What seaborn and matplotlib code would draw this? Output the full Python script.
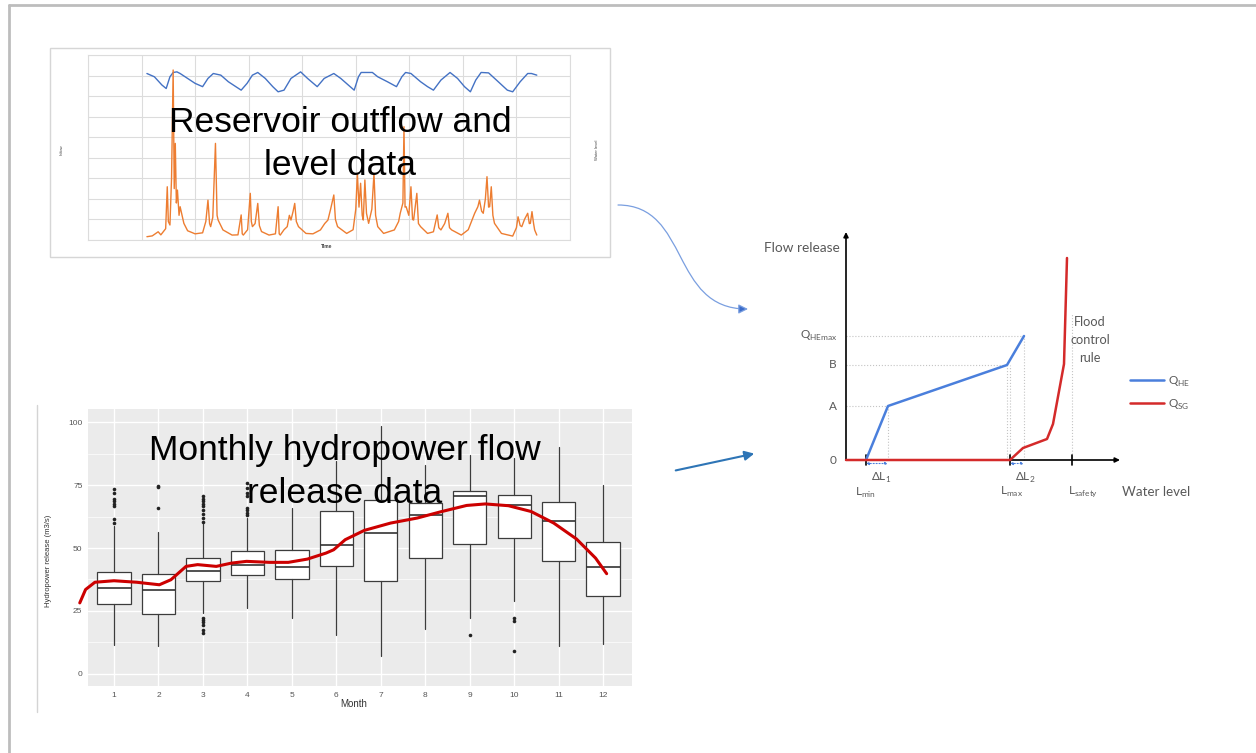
import numpy as np
import pandas as pd
import matplotlib
matplotlib.use("Agg")
import matplotlib.pyplot as plt
import seaborn as sns
from matplotlib.patches import FancyArrowPatch, Rectangle
from matplotlib.path import Path
from matplotlib.lines import Line2D

# ---------------- data ----------------
# Top panel: reservoir inflow / water level time series (time in grid units)
inflow_t = [1.10, 1.20, 1.31, 1.36, 1.45, 1.48, 1.50, 1.53, 1.56, 1.59, 1.61, 1.63, 1.65, 1.67, 1.70, 1.72,
            1.79, 1.86, 2.00, 2.14, 2.20, 2.24, 2.27, 2.29, 2.33, 2.38, 2.41, 2.43, 2.52, 2.69, 2.80, 2.86,
            2.88, 2.90, 2.98, 3.03, 3.05, 3.07, 3.12, 3.17, 3.20, 3.24, 3.38, 3.50, 3.55, 3.57, 3.59, 3.66,
            3.72, 3.76, 3.79, 3.83, 3.86, 3.89, 3.93, 4.07, 4.20, 4.34, 4.42, 4.48, 4.53, 4.59, 4.62, 4.66,
            4.83, 4.95, 5.00, 5.03, 5.06, 5.09, 5.12, 5.14, 5.17, 5.20, 5.24, 5.30, 5.34, 5.37, 5.41, 5.52,
            5.72, 5.80, 5.83, 5.88, 5.90, 5.92, 5.94, 5.99, 6.03, 6.06, 6.08, 6.14, 6.17, 6.21, 6.34, 6.45,
            6.52, 6.55, 6.59, 6.66, 6.72, 6.75, 6.79, 6.97, 7.10, 7.17, 7.22, 7.28, 7.31, 7.35, 7.38, 7.42,
            7.45, 7.48, 7.50, 7.53, 7.56, 7.59, 7.72, 7.93, 8.00, 8.03, 8.07, 8.10, 8.15, 8.21, 8.24, 8.26,
            8.29, 8.32, 8.34, 8.38]
inflow_v = [0.16, 0.20, 0.40, 0.25, 0.55, 2.59, 0.90, 0.73, 3.00, 8.27, 2.50, 4.70, 1.80, 2.43, 1.20, 1.62,
            0.81, 0.45, 0.30, 0.35, 0.90, 1.94, 0.80, 0.65, 1.10, 4.70, 1.20, 0.97, 0.49, 0.24, 0.25, 1.22,
            0.30, 0.24, 0.50, 2.27, 0.90, 0.65, 0.80, 1.78, 0.70, 0.41, 0.24, 0.30, 1.62, 0.30, 0.24, 0.50,
            0.65, 1.20, 0.97, 1.40, 1.78, 0.90, 0.65, 0.32, 0.30, 0.49, 0.80, 0.97, 1.50, 2.19, 1.00, 0.65,
            0.32, 0.50, 1.50, 3.24, 1.60, 2.76, 1.20, 0.97, 2.92, 1.30, 0.81, 1.50, 3.24, 1.20, 0.65, 0.32,
            0.49, 0.90, 1.30, 1.80, 5.51, 1.60, 1.62, 1.20, 2.59, 1.00, 0.97, 2.27, 0.80, 0.65, 0.32, 0.40,
            1.22, 0.60, 0.49, 0.80, 1.30, 0.60, 0.49, 0.24, 0.50, 0.97, 1.30, 1.62, 1.94, 1.40, 1.30, 2.00,
            3.08, 1.60, 1.62, 2.59, 1.20, 0.81, 0.32, 0.19, 0.60, 1.13, 0.70, 0.65, 1.00, 1.30, 0.80, 0.81,
            1.38, 0.80, 0.49, 0.24]
level_t = [1.10, 1.24, 1.38, 1.46, 1.53, 1.59, 1.66, 1.72, 1.86, 2.00, 2.14, 2.24, 2.34, 2.48, 2.62, 2.76,
           2.86, 2.97, 3.07, 3.17, 3.31, 3.45, 3.55, 3.66, 3.79, 3.97, 4.10, 4.28, 4.41, 4.59, 4.72, 4.86,
           4.97, 5.05, 5.10, 5.31, 5.41, 5.59, 5.76, 5.86, 5.93, 6.03, 6.21, 6.34, 6.45, 6.59, 6.76, 6.90,
           7.03, 7.14, 7.24, 7.34, 7.48, 7.66, 7.83, 7.93, 8.07, 8.21, 8.28, 8.38]
level_v = [8.10, 7.94, 7.54, 7.37, 7.94, 8.15, 8.18, 8.10, 7.86, 7.62, 7.46, 7.86, 8.10, 8.02, 7.70, 7.46,
           7.29, 7.62, 8.02, 8.15, 7.86, 7.46, 7.21, 7.29, 7.86, 8.18, 7.86, 7.46, 7.86, 8.10, 7.86, 7.54,
           7.29, 7.94, 8.15, 8.15, 7.94, 7.70, 7.46, 7.94, 8.15, 8.10, 7.70, 7.46, 7.29, 7.78, 8.15, 7.86,
           7.46, 7.21, 7.78, 8.15, 8.13, 7.70, 7.29, 7.21, 7.70, 8.10, 8.10, 8.02]

# Bottom panel: monthly hydropower release box statistics (m3/s)
months = [1, 2, 3, 4, 5, 6, 7, 8, 9, 10, 11, 12]
box_q1 = [27.9, 23.9, 36.8, 39.4, 37.7, 42.7, 36.8, 46.0, 51.7, 54.0, 44.8, 30.8]
box_med = [34.1, 33.2, 40.9, 43.1, 42.5, 51.0, 56.0, 63.2, 70.5, 67.2, 60.8, 42.3]
box_q3 = [40.3, 39.8, 45.9, 48.7, 49.3, 64.5, 69.2, 67.9, 72.5, 71.2, 68.1, 52.4]
box_lo = [11.6, 11.0, 24.0, 26.2, 22.2, 15.6, 7.0, 17.9, 22.2, 28.8, 11.0, 11.9]
box_hi = [58.9, 56.2, 59.5, 61.8, 66.0, 84.4, 98.3, 83.0, 87.0, 85.7, 90.3, 74.9]
box_out = [
    [59.9, 61.5, 66.5, 67.5, 68.5, 69.6, 71.8, 73.5],
    [65.9, 74.2, 74.7],
    [16.3, 17.6, 19.6, 20.5, 21.5, 22.2, 60.5, 62.0, 63.5, 65.0, 66.5, 67.5, 68.5, 69.5, 70.5],
    [63.2, 64.0, 65.0, 66.0, 70.5, 72.0, 74.0, 75.8],
    [], [], [], [],
    [15.6],
    [9.0, 20.9, 22.2],
    [], [],
]
smooth_m = [0.23, 0.36, 0.57, 1.00, 1.51, 2.02, 2.28, 2.62, 2.88, 3.30, 3.64, 3.98, 4.50, 4.92, 5.35,
            5.77, 5.94, 6.20, 6.63, 7.22, 7.82, 8.33, 8.93, 9.35, 9.87, 10.38, 10.89, 11.40, 11.83, 12.08]
smooth_v = [28.2, 33.5, 36.4, 37.0, 36.4, 35.4, 37.4, 42.7, 43.4, 42.7, 44.0, 44.7, 44.3, 44.3, 45.6,
            48.0, 49.3, 53.3, 57.0, 59.9, 61.9, 64.3, 66.9, 67.5, 66.8, 64.5, 59.9, 53.6, 46.0, 39.8]
month_labels = [str(m) for m in months]
y_ticks = [0, 25, 50, 75, 100]

# Right panel: operating rule (water level vs flow release, schematic units)
he_level = [2.0, 4.2, 16.1, 17.8]
he_flow = [0.0, 5.4, 9.5, 12.4]
sg_level = [0.0, 16.4, 17.7, 20.1, 20.7, 21.8, 22.1]
sg_flow = [0.0, 0.0, 1.2, 2.1, 3.6, 9.6, 20.2]
level_marks = [2.0, 16.4, 22.6]           # L_min, L_max, L_safety
flow_marks = [0.0, 5.4, 9.5, 12.4]        # 0, A, B, Q_HEmax
flow_mark_labels = ["0", "A", "B", "Q$_\\mathregular{HEmax}$"]

# ---------------- figure ----------------
W, H = 1256, 753
sns.set_style("white")
plt.rcParams['font.family'] = ['Liberation Sans', 'DejaVu Sans']

fig = plt.figure(figsize=(W / 100, H / 100), dpi=100)


def frect(x0, y0, x1, y1):
    return [x0 / W, 1 - y1 / H, (x1 - x0) / W, (y1 - y0) / H]


def fpt(x, y):
    return (x / W, 1 - y / H)


# outer frame (top + left)
fig.add_artist(Line2D([9 / W, 1], [1 - 5 / H, 1 - 5 / H], color='#bdbdbd', lw=2, transform=fig.transFigure))
fig.add_artist(Line2D([9 / W, 9 / W], [0, 1 - 5 / H], color='#bdbdbd', lw=2, transform=fig.transFigure))

# ---------- top-left panel ----------
fig.add_artist(Rectangle(fpt(50, 257), 560 / W, 209 / H, transform=fig.transFigure,
                         fill=False, ec='#d6d6d6', lw=1))
ax1 = fig.add_axes(frect(88, 55, 570, 240))
ax1.set_facecolor('white')
sns.lineplot(x=level_t, y=level_v, ax=ax1, color='#4472C4', lw=1.0, sort=False, estimator=None)
sns.lineplot(x=inflow_t, y=inflow_v, ax=ax1, color='#ED7D31', lw=1.0, sort=False, estimator=None)
ax1.set_xlim(0, 9)
ax1.set_ylim(0, 9)
ax1.set_xticks(range(10))
ax1.set_yticks(range(10))
ax1.grid(True, color='#dcdcdc', lw=0.8)
ax1.set_axisbelow(True)
ax1.tick_params(length=0, labelbottom=False, labelleft=False)
ax1.set_xlabel('')
ax1.set_ylabel('')
for s in ax1.spines.values():
    s.set_color('#dcdcdc')
    s.set_linewidth(0.8)

fig.text(*fpt(62, 150), "Inflow", rotation=90, fontsize=3, ha='center', va='center', color='#444444')
fig.text(*fpt(597, 150), "Water level", rotation=90, fontsize=3, ha='center', va='center', color='#444444')
fig.text(*fpt(327, 247), "Time", fontsize=3.5, ha='center', va='center', color='#444444', weight='bold')

fig.text(*fpt(340, 132), "Reservoir outflow and", fontsize=25.5, ha='center', va='baseline', color='black')
fig.text(*fpt(340, 175), "level data", fontsize=25.5, ha='center', va='baseline', color='black')

# ---------- bottom-left panel ----------
fig.add_artist(Line2D([37 / W, 37 / W], [1 - 712 / H, 1 - 405 / H], color='#d4d4d4', lw=1, transform=fig.transFigure))
ax2 = fig.add_axes(frect(88, 409, 632, 686))
ax2.set_facecolor('#EBEBEB')
stats = []
for i in range(len(months)):
    stats.append(dict(med=box_med[i], q1=box_q1[i], q3=box_q3[i], whislo=box_lo[i],
                      whishi=box_hi[i], fliers=box_out[i]))
ax2.bxp(stats, positions=months, widths=0.75, patch_artist=True, showcaps=False,
        boxprops=dict(facecolor='white', edgecolor='#3c3c3c', lw=0.9),
        medianprops=dict(color='#333333', lw=1.2),
        whiskerprops=dict(color='#3c3c3c', lw=0.9),
        flierprops=dict(marker='o', markersize=2.6, markerfacecolor='#222222', markeredgecolor='none'))
sns.lineplot(x=smooth_m, y=smooth_v, ax=ax2, color='#CC0000', lw=2.2, sort=False, estimator=None)
ax2.lines[-1].set_clip_on(False)
ax2.lines[-1].set_zorder(5)
ax2.set_xlim(0.415, 12.65)
ax2.set_ylim(-4.8, 105.2)
ax2.set_xticks(months)
ax2.set_xticklabels(month_labels)
ax2.set_yticks(y_ticks)
ax2.set_yticks([12.5, 37.5, 62.5, 87.5], minor=True)
ax2.grid(True, which='major', color='white', lw=1.0)
ax2.grid(True, which='minor', axis='y', color='white', lw=0.5)
ax2.set_axisbelow(True)
ax2.tick_params(axis='both', which='major', labelsize=6, colors='#555555', length=2.5, width=0.6, pad=1.5)
ax2.tick_params(axis='both', which='minor', length=0)
ax2.set_xlabel('')
ax2.set_ylabel('')
for s in ax2.spines.values():
    s.set_visible(False)
fig.text(*fpt(354, 704), "Month", fontsize=7, ha='center', va='center', color='#333333')
fig.text(*fpt(48, 561), "Hydropower release (m3/s)", rotation=90, fontsize=5.5, ha='center', va='center',
         color='#333333')

fig.text(*fpt(345, 460), "Monthly hydropower flow", fontsize=25.5, ha='center', va='baseline', color='black')
fig.text(*fpt(345, 503), "release data", fontsize=25.5, ha='center', va='baseline', color='black')

# ---------- right panel: operating rule ----------
ax3 = fig.add_axes(frect(846, 232, 1120, 460))
ax3.set_xlim(0, 27.4)
ax3.set_ylim(0, 22.8)
ax3.axis('off')
dfam = ['Lato', 'DejaVu Sans']
gcol = '#595959'
dot = dict(color='#c4c4c4', lw=0.8, ls=':', clip_on=False, zorder=1)

# guide lines
for lv, fl in zip(he_level[1:], he_flow[1:]):
    ax3.plot([0, lv], [fl, fl], **dot)
    ax3.plot([lv, lv], [0, fl], **dot)
ax3.plot([level_marks[1], level_marks[1]], [0, he_flow[2]], **dot)
ax3.plot([level_marks[2], level_marks[2]], [0, 14.7], **dot)

# axes with arrows
ax3.annotate('', xy=(0, 22.8), xytext=(0, 0),
             arrowprops=dict(arrowstyle='-|>', color='black', lw=1.2, mutation_scale=7, shrinkA=0, shrinkB=0),
             annotation_clip=False)
ax3.annotate('', xy=(27.4, 0), xytext=(0, 0),
             arrowprops=dict(arrowstyle='-|>', color='black', lw=1.2, mutation_scale=7, shrinkA=0, shrinkB=0),
             annotation_clip=False)
for lm in level_marks:
    ax3.plot([lm, lm], [-0.5, 0.5], color='black', lw=1.2, clip_on=False, zorder=3)

sns.lineplot(x=he_level, y=he_flow, ax=ax3, color='#4a7fdc', lw=1.8, sort=False, estimator=None,
             label="Q$_\\mathregular{HE}$")
sns.lineplot(x=sg_level, y=sg_flow, ax=ax3, color='#d42a2a', lw=1.8, sort=False, estimator=None,
             label="Q$_\\mathregular{SG}$")
for ln in ax3.lines[-2:]:
    ln.set_clip_on(False)
    ln.set_zorder(4)
ax3.set_xlim(0, 27.4)
ax3.set_ylim(0, 22.8)

# delta-L arrows
for a, b in [(level_marks[0], he_level[1]), (level_marks[1], he_level[3])]:
    ax3.annotate('', xy=(b, -0.35), xytext=(a, -0.35),
                 arrowprops=dict(arrowstyle='<|-|>', color='#4a7fdc', lw=0.8, ls=':', mutation_scale=4,
                                 shrinkA=0, shrinkB=0), annotation_clip=False)

# labels
for fm, lab in zip(flow_marks, flow_mark_labels):
    ax3.text(-0.9, fm, lab, ha='right', va='center', fontsize=8.5, color=gcol, family=dfam)
ax3.text(-0.6, 21.2, "Flow release", ha='right', va='center', fontsize=9.8, color=gcol, family=dfam)
ax3.text(27.6, -3.2, "Water level", ha='left', va='center', fontsize=9.6, color=gcol, family=dfam)
ax3.text(2.0, -3.3, "L$_\\mathregular{min}$", ha='center', va='center', fontsize=8.5, color=gcol, family=dfam)
ax3.text(16.6, -3.2, "L$_\\mathregular{max}$", ha='center', va='center', fontsize=8.5, color=gcol, family=dfam)
ax3.text(23.7, -3.2, "L$_\\mathregular{safety}$", ha='center', va='center', fontsize=8.5, color=gcol, family=dfam)
ax3.text(3.5, -1.8, "\u0394L$_\\mathregular{1}$", ha='center', va='center', fontsize=8.5, color=gcol, family=dfam)
ax3.text(17.9, -1.8, "\u0394L$_\\mathregular{2}$", ha='center', va='center', fontsize=8.5, color=gcol, family=dfam)
ax3.text(24.4, 12.0, "Flood\ncontrol\nrule", ha='center', va='center', fontsize=9.2, color=gcol,
         family=dfam, linespacing=1.6)

leg = ax3.legend(loc='center left', bbox_to_anchor=fpt(1130, 393), bbox_transform=fig.transFigure,
                 frameon=False, borderpad=0, borderaxespad=0, handlelength=2.9, handletextpad=0.3,
                 labelspacing=0.75, prop=dict(family=dfam, size=8.5))
for t in leg.get_texts():
    t.set_color(gcol)

# ---------- connecting arrows ----------
p = [fpt(618, 205), fpt(690, 205), fpt(670, 309), fpt(748, 309)]
curve = Path(p, [Path.MOVETO, Path.CURVE4, Path.CURVE4, Path.CURVE4])
fig.add_artist(FancyArrowPatch(path=curve, arrowstyle='-|>', mutation_scale=14, lw=0.9,
                               ec='#7a9fe0', fc='#3a6bc9', transform=fig.transFigure))
fig.add_artist(FancyArrowPatch(posA=fpt(673, 471), posB=fpt(757, 453), arrowstyle='-|>', mutation_scale=14,
                               lw=1.5, color='#2e75b6', transform=fig.transFigure))

fig.savefig('out.png', dpi=100)
